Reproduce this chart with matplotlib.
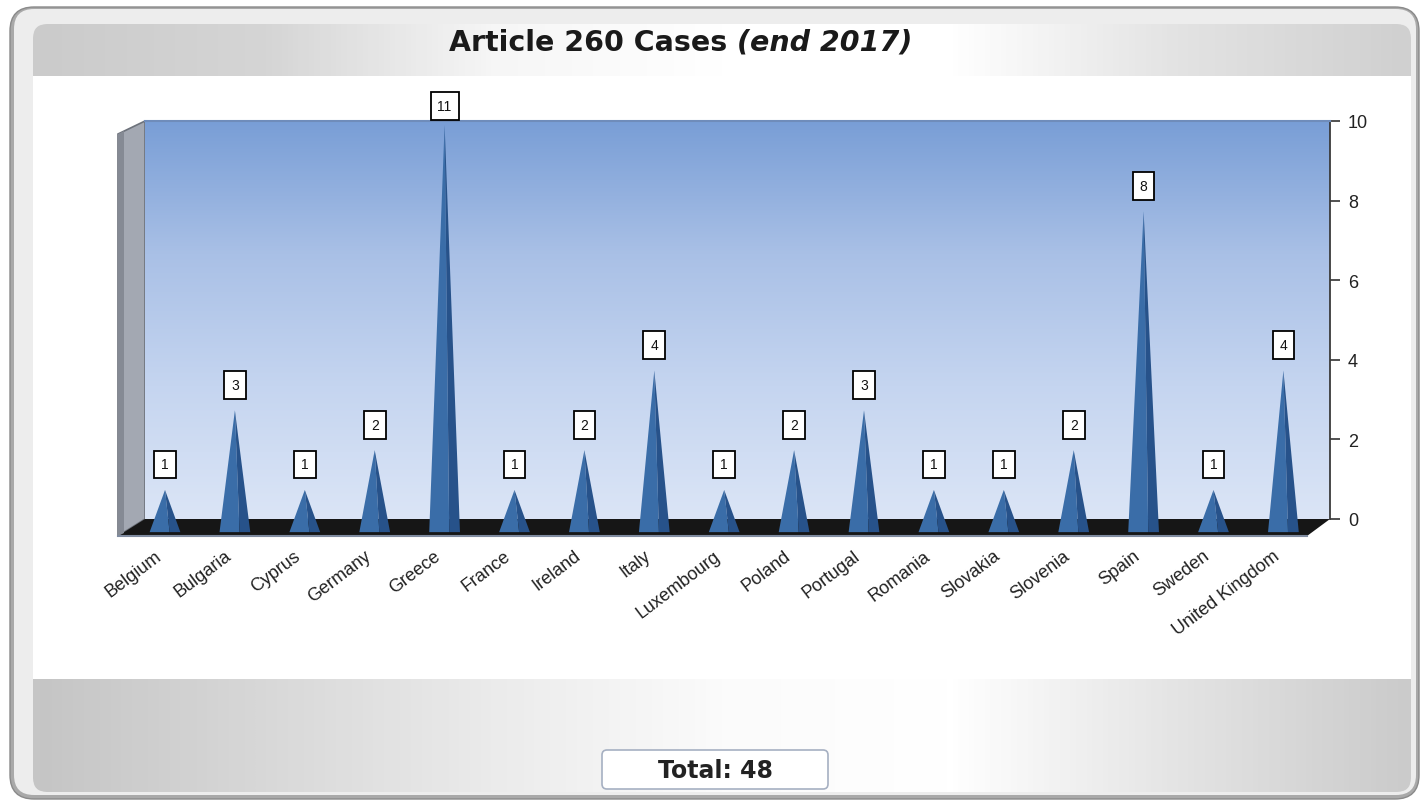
import numpy as np
import matplotlib.pyplot as plt
from matplotlib.patches import FancyBboxPatch, Polygon
from matplotlib.colors import LinearSegmentedColormap
from matplotlib.transforms import ScaledTranslation

# data
countries = ['Belgium', 'Bulgaria', 'Cyprus', 'Germany', 'Greece', 'France', 'Ireland', 'Italy',
             'Luxembourg', 'Poland', 'Portugal', 'Romania', 'Slovakia', 'Slovenia', 'Spain',
             'Sweden', 'United Kingdom']
cases = [1, 3, 1, 2, 11, 1, 2, 4, 1, 2, 3, 1, 1, 2, 8, 1, 4]
y_ticks = [0, 2, 4, 6, 8, 10]
title_main = 'Article 260 Cases '
title_note = '(end 2017)'

W, H = 1421, 804
fig = plt.figure(figsize=(W / 100, H / 100), dpi=100)
fig.patch.set_facecolor('white')

# background axes in pixel coordinates for the frame decoration
bg = fig.add_axes([0, 0, 1, 1])
bg.axis('off')


def grad(x0, x1, y0, y1, stops, horizontal=True, clip=None, z=1):
    cmap = LinearSegmentedColormap.from_list('g', stops)
    arr = np.linspace(0, 1, 256)
    arr = arr[None, :] if horizontal else arr[:, None]
    im = bg.imshow(arr, cmap=cmap, extent=(x0, x1, y1, y0), aspect='auto',
                   origin='upper', zorder=z, interpolation='bilinear')
    if clip is not None:
        im.set_clip_path(clip)
    return im


outer = FancyBboxPatch((10, 8), 1409, 792, boxstyle='round,pad=0,rounding_size=24',
                       fc='#a9a9a9', ec='#8a8a8a', lw=1, zorder=0)
bg.add_patch(outer)
rim = FancyBboxPatch((14, 10), 1402, 786, boxstyle='round,pad=0,rounding_size=20',
                     fc='#ededed', ec='none', zorder=0)
bg.add_patch(rim)
content = FancyBboxPatch((33, 25), 1378, 768, boxstyle='round,pad=0,rounding_size=14',
                         fc='white', ec='none', zorder=0.5)
bg.add_patch(content)

grad(33, 1411, 25, 77, ['#cbcbcb', '#d5d5d5', '#f6f6f6', '#ffffff', '#ffffff', '#e3e3e3', '#d0d0d0'],
     clip=content)
grad(33, 1411, 680, 793, ['#c5c5c5', '#d8d8d8', '#ebebeb', '#fbfbfb', '#ffffff', '#e4e4e4', '#cbcbcb'],
     clip=content)

# left side wall and floor of the 3D box
bg.add_patch(Polygon([(118, 135), (145, 122), (145, 520), (118, 537)],
                     closed=True, fc='#a3a8b2', ec='#6d727b', lw=1.2, zorder=1.2))
bg.add_patch(Polygon([(118, 135), (124, 132), (124, 534), (118, 537)],
                     closed=True, fc='#858a94', ec='none', zorder=1.3))
bg.add_patch(Polygon([(145, 520), (1330, 520), (1307, 537), (118, 537)],
                     closed=True, fc='#161616', ec='none', zorder=1.2))
bg.plot([118, 1307], [537, 537], color='#7f8ba0', lw=1.5, zorder=1.3)

# total box
bg.add_patch(FancyBboxPatch((602, 751), 226, 39, boxstyle='round,pad=0,rounding_size=5',
                            fc='white', ec='#a6b0c2', lw=1.2, zorder=2))
bg.text(715, 771, 'Total: %d' % sum(cases), ha='center', va='center', fontsize=17,
        fontweight='bold', family='DejaVu Sans', color='#222222', zorder=3)

bg.set_xlim(0, W)
bg.set_ylim(H, 0)

# main chart axes (back wall)
ax_left, ax_right, ax_top, ax_bottom = 145, 1330, 122, 520
ax = fig.add_axes([ax_left / W, (H - ax_bottom) / H, (ax_right - ax_left) / W, (ax_bottom - ax_top) / H])
ax.set_zorder(2)
ax.patch.set_alpha(0)

step = 69.9
x0 = -(165 - ax_left) / step
x1 = x0 + (ax_right - ax_left) / step
ax.set_xlim(x0, x1)
ax.set_ylim(0, 10)

wall = LinearSegmentedColormap.from_list('wall', ['#799ed6', '#a9c0e6', '#c5d5f0', '#dbe5f6'])
ax.imshow(np.linspace(0, 1, 256)[:, None], cmap=wall, extent=(x0, x1, 0, 10), aspect='auto',
          origin='upper', zorder=0, interpolation='bilinear')

xs = np.arange(len(countries))
hw = 0.22
base = -0.33
for x, v in zip(xs, cases):
    apex = min(v - 0.27, 9.9)
    ax.add_patch(Polygon([(x - hw, base), (x + 0.3 * hw, base), (x, apex)], closed=True,
                         fc='#3a6da8', ec='none', clip_on=False, zorder=3))
    ax.add_patch(Polygon([(x + 0.3 * hw, base), (x + hw, base), (x, apex)], closed=True,
                         fc='#27528a', ec='none', clip_on=False, zorder=3))
    ax.text(x, min(v, 10) + 0.37, str(v), ha='center', va='center', fontsize=10,
            family='Liberation Sans', color='#111111', clip_on=False, zorder=5,
            bbox=dict(boxstyle='square,pad=0.5', fc='white', ec='black', lw=1.3))

for s in ['left', 'bottom']:
    ax.spines[s].set_visible(False)
ax.spines['top'].set_color('#6f8cba')
ax.spines['top'].set_linewidth(1.5)
ax.spines['right'].set_color('#3a3a3a')
ax.spines['right'].set_linewidth(1.3)

ax.yaxis.tick_right()
ax.set_yticks(y_ticks)
ax.tick_params(axis='y', length=7, width=1.2, color='#333333', labelsize=13, pad=6,
               labelcolor='#222222')
for lab in ax.get_yticklabels():
    lab.set_family('Liberation Sans')

ax.set_xticks(xs)
ax.set_xticklabels(countries, rotation=37, ha='right', va='top', rotation_mode='anchor',
                   fontsize=13, family='Liberation Sans', color='#222222')
ax.tick_params(axis='x', length=0, pad=20)
shift = ScaledTranslation(-11 / 100, 0, fig.dpi_scale_trans)
for lab in ax.get_xticklabels():
    lab.set_transform(lab.get_transform() + shift)

# title with italic part
fig.canvas.draw()
r = fig.canvas.get_renderer()
t1 = bg.text(0, 43, title_main, ha='left', va='center', fontsize=20.5, fontweight='bold',
             family='DejaVu Sans', color='#1a1a1a', zorder=3)
t2 = bg.text(0, 43, title_note, ha='left', va='center', fontsize=20.5, fontweight='bold',
             style='italic', family='DejaVu Sans', color='#1a1a1a', zorder=3)
w1 = t1.get_window_extent(r).width
w2 = t2.get_window_extent(r).width
start = 681 - (w1 + w2) / 2
t1.set_x(start)
t2.set_x(start + w1)

fig.savefig('out.png', dpi=100)
